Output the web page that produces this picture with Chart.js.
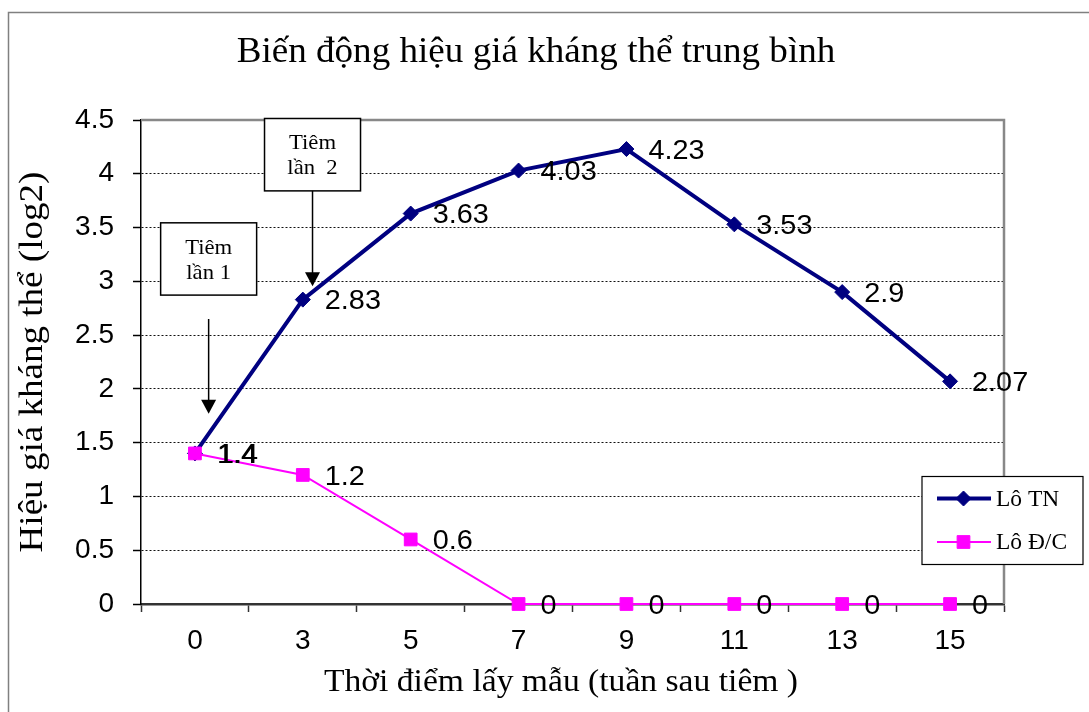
<!DOCTYPE html>
<html lang="vi">
<head>
<meta charset="utf-8">
<title>Biến động hiệu giá kháng thể trung bình</title>
<script src="https://cdn.jsdelivr.net/npm/chart.js@4.4.1/dist/chart.umd.min.js"></script>
<style>
  html, body { margin: 0; padding: 0; background: #fff; }
  #wrap { width: 1089px; height: 712px; position: relative; }
  canvas { display: block; }
</style>
</head>
<body>
<div id="wrap"><canvas id="chart" width="1089" height="712"></canvas></div>
<script>
// ---- data ----
const weeks = ['0', '3', '5', '7', '9', '11', '13', '15'];
const loTN = [1.4, 2.83, 3.63, 4.03, 4.23, 3.53, 2.9, 2.07];
const loDC = [1.4, 1.2, 0.6, 0, 0, 0, 0, 0];
const yTickValues = [0, 0.5, 1, 1.5, 2, 2.5, 3, 3.5, 4, 4.5];
const seriesNames = ['Lô TN', 'Lô Đ/C'];

const chartTitle = 'Biến động hiệu giá kháng thể trung bình';
const xAxisTitle = 'Thời điểm lấy mẫu (tuần sau tiêm )';
const yAxisTitle = 'Hiệu giá kháng thể (log2)';

// injection call-outs: text lines, category position, box and arrow extents on the y scale
const injectionLabels = [['Tiêm', 'lần 1'], ['Tiêm', 'lần  2']];
const injectionAt = [0.127, 1.09];
const injectionBoxTop = [3.544, 4.514];
const injectionBoxBottom = [2.872, 3.841];
const injectionArrowFrom = [2.65, 3.841];
const injectionArrowTo = [1.77, 2.955];

// ---- styling ----
const SERIF = '"Liberation Serif", "Times New Roman", serif';
const SANS = '"Liberation Sans", Arial, sans-serif';
const NAVY = '#000080';
const MAGENTA = '#FF00FF';

function wideText(ctx, str, x, y, align, sx) {
  ctx.save();
  ctx.translate(x, y);
  ctx.scale(sx, 1);
  ctx.textAlign = align;
  ctx.fillText(str, 0, 0);
  ctx.restore();
}

// white page, outer frame, titles
const framePlugin = {
  id: 'frame',
  beforeDraw(chart) {
    const ctx = chart.ctx;
    ctx.save();
    ctx.fillStyle = '#fff';
    ctx.fillRect(0, 0, chart.width, chart.height);
    ctx.strokeStyle = '#808080';
    ctx.lineWidth = 1.5;
    ctx.beginPath();
    ctx.moveTo(8.5, chart.height + 2);
    ctx.lineTo(8.5, 12.5);
    ctx.lineTo(chart.width + 2, 12.5);
    ctx.stroke();
    ctx.restore();
  },
  afterDraw(chart) {
    const ctx = chart.ctx;
    const a = chart.chartArea;
    ctx.save();
    ctx.fillStyle = '#000';
    ctx.textBaseline = 'alphabetic';
    ctx.font = '35px ' + SERIF;
    wideText(ctx, chartTitle, 536, 62, 'center', 1.06);
    ctx.font = '32px ' + SERIF;
    wideText(ctx, xAxisTitle, 561, 691, 'center', 1.05);
    ctx.save();
    ctx.translate(42, (a.top + a.bottom) / 2);
    ctx.rotate(-Math.PI / 2);
    ctx.font = '34px ' + SERIF;
    wideText(ctx, yAxisTitle, 0, 0, 'center', 1.09);
    ctx.restore();
    ctx.restore();
  }
};

// grey top and right edges of the plot area
const plotEdgePlugin = {
  id: 'plotEdge',
  beforeDatasetsDraw(chart) {
    const ctx = chart.ctx;
    const a = chart.chartArea;
    ctx.save();
    ctx.strokeStyle = '#888';
    ctx.lineWidth = 2.5;
    ctx.beginPath();
    ctx.moveTo(a.left, a.top);
    ctx.lineTo(a.right, a.top);
    ctx.lineTo(a.right, a.bottom);
    ctx.stroke();
    ctx.restore();
  }
};

// value labels to the right of every point
const valueLabelPlugin = {
  id: 'valueLabels',
  afterDatasetsDraw(chart) {
    const ctx = chart.ctx;
    ctx.save();
    ctx.fillStyle = '#000';
    ctx.font = '28px ' + SANS;
    ctx.textBaseline = 'middle';
    chart.data.datasets.forEach((ds, di) => {
      const meta = chart.getDatasetMeta(di);
      meta.data.forEach((pt, i) => {
        const shift = di === 1 && i === 0 ? 1 : 0;
        wideText(ctx, String(ds.data[i]), pt.x + 22 + shift, pt.y + 2, 'left', 1.03);
      });
    });
    ctx.restore();
  }
};

// "Tiêm lần" boxes with arrows
const injectionPlugin = {
  id: 'injections',
  afterDatasetsDraw(chart) {
    const ctx = chart.ctx;
    const xs = chart.scales.x;
    const ys = chart.scales.y;
    ctx.save();
    injectionLabels.forEach((lines, k) => {
      const cx = xs.getPixelForValue(injectionAt[k]);
      const top = ys.getPixelForValue(injectionBoxTop[k]);
      const bottom = ys.getPixelForValue(injectionBoxBottom[k]);
      const w = 96;
      ctx.fillStyle = '#fff';
      ctx.fillRect(cx - w / 2, top, w, bottom - top);
      ctx.strokeStyle = '#000';
      ctx.lineWidth = 1.5;
      ctx.strokeRect(cx - w / 2, top, w, bottom - top);
      ctx.fillStyle = '#000';
      ctx.font = '22px ' + SERIF;
      ctx.textBaseline = 'middle';
      const mid = (top + bottom) / 2;
      wideText(ctx, lines[0], cx, mid - 11, 'center', 1.03);
      wideText(ctx, lines[1], cx, mid + 14, 'center', 1.03);
      // arrow
      const y0 = ys.getPixelForValue(injectionArrowFrom[k]);
      const y1 = ys.getPixelForValue(injectionArrowTo[k]);
      ctx.beginPath();
      ctx.moveTo(cx, y0);
      ctx.lineTo(cx, y1 - 12);
      ctx.stroke();
      ctx.beginPath();
      ctx.moveTo(cx - 7.5, y1 - 14);
      ctx.lineTo(cx + 7.5, y1 - 14);
      ctx.lineTo(cx, y1);
      ctx.closePath();
      ctx.fill();
    });
    ctx.restore();
  }
};

// legend box drawn over the right edge of the plot
const legendBoxPlugin = {
  id: 'legendBox',
  afterDraw(chart) {
    const ctx = chart.ctx;
    const a = chart.chartArea;
    const left = a.right - 82, top = 476.5, w = 161, h = 88;
    ctx.save();
    ctx.fillStyle = '#fff';
    ctx.fillRect(left, top, w, h);
    ctx.strokeStyle = '#000';
    ctx.lineWidth = 1.2;
    ctx.strokeRect(left, top, w, h);
    chart.data.datasets.forEach((ds, i) => {
      const y = top + 22 + i * 43.5;
      ctx.strokeStyle = ds.borderColor;
      ctx.lineWidth = ds.borderWidth;
      ctx.beginPath();
      ctx.moveTo(left + 15, y);
      ctx.lineTo(left + 69, y);
      ctx.stroke();
      ctx.fillStyle = ds.backgroundColor;
      ctx.strokeStyle = ds.borderColor;
      ctx.lineWidth = 1;
      Chart.helpers.drawPoint(ctx, {
        pointStyle: ds.pointStyle,
        radius: ds.pointRadius,
        borderWidth: 1,
        rotation: 0
      }, left + 41.5, y);
      ctx.fillStyle = '#000';
      ctx.font = '23px ' + SERIF;
      ctx.textBaseline = 'middle';
      wideText(ctx, seriesNames[i], left + 74, y + 1, 'left', 1.02);
    });
    ctx.restore();
  }
};

new Chart(document.getElementById('chart'), {
  type: 'line',
  data: {
    labels: weeks,
    datasets: [
      {
        label: seriesNames[0],
        data: loTN,
        borderColor: NAVY,
        backgroundColor: NAVY,
        borderWidth: 4,
        pointStyle: 'rectRot',
        pointRadius: 7.5,
        pointBorderWidth: 1,
        tension: 0,
        clip: false,
        order: 1
      },
      {
        label: seriesNames[1],
        data: loDC,
        borderColor: MAGENTA,
        backgroundColor: MAGENTA,
        borderWidth: 2,
        pointStyle: 'rect',
        pointRadius: 9,
        pointBorderWidth: 1,
        tension: 0,
        clip: false,
        order: 0
      }
    ]
  },
  options: {
    responsive: false,
    animation: false,
    devicePixelRatio: 1,
    layout: { padding: { top: 120, right: 85, left: 0, bottom: 0 } },
    plugins: {
      legend: { display: false },
      title: { display: false },
      tooltip: { enabled: false }
    },
    scales: {
      x: {
        type: 'category',
        offset: true,
        grid: {
          offset: true,
          drawOnChartArea: false,
          drawTicks: true,
          tickLength: 8,
          tickColor: '#333',
          tickWidth: 1.5
        },
        border: { display: true, color: '#333', width: 2.5 },
        ticks: {
          color: '#000',
          font: { family: SANS, size: 28 },
          padding: 12,
          maxRotation: 0,
          autoSkip: false
        },
        afterFit(s) { s.height = 108; }
      },
      y: {
        min: 0,
        max: 4.5,
        afterBuildTicks(s) { s.ticks = yTickValues.map(v => ({ value: v })); },
        grid: {
          color: c => (c.tick && (c.tick.value === 0 || c.tick.value === 4.5)) ? 'rgba(0,0,0,0)' : '#111',
          lineWidth: 1,
          drawTicks: true,
          tickLength: 8,
          tickColor: '#000',
          tickWidth: 1.5
        },
        border: { display: true, color: '#000', width: 1.5, dash: [2, 2] },
        ticks: {
          color: '#000',
          font: { family: SANS, size: 28 },
          padding: 19,
          callback: v => String(v)
        },
        afterFit(s) { s.width = 141; }
      }
    }
  },
  plugins: [framePlugin, plotEdgePlugin, valueLabelPlugin, injectionPlugin, legendBoxPlugin]
});
</script>
</body>
</html>
